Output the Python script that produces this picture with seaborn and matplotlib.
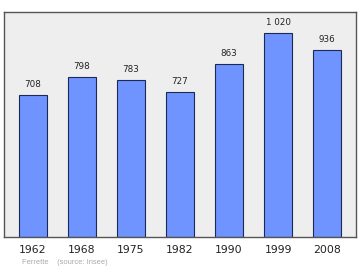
import matplotlib
matplotlib.use("Agg")
import matplotlib.pyplot as plt
import seaborn as sns
import pandas as pd

years = ["1962", "1968", "1975", "1982", "1990", "1999", "2008"]
population = [708, 798, 783, 727, 863, 1020, 936]
value_labels = ["708", "798", "783", "727", "863", "1 020", "936"]

sns.set_style("white")
plt.rcParams['font.family'] = ['DejaVu Sans']

df = pd.DataFrame({"year": years, "pop": population})

fig = plt.figure(figsize=(3.6, 2.7), dpi=100)
ax = fig.add_axes([4/360, 1 - 237/270, 352/360, 225/270])
ax.set_facecolor("#eeeeee")
sns.barplot(data=df, x="year", y="pop", ax=ax, color="#6f94ff", width=0.57,
            edgecolor="#1a2a55", linewidth=0.8, saturation=1)
ax.set_xlim(-0.59, 6.59)
ax.set_ylim(0, 1125)
ax.set_yticks([])
ax.set_xlabel("")
ax.set_ylabel("")
ax.tick_params(axis="x", length=0, labelsize=7.8, pad=6, colors="#222222")
for s in ax.spines.values():
    s.set_color("#555555")
    s.set_linewidth(1.0)
for i, (v, t) in enumerate(zip(population, value_labels)):
    ax.text(i, v + 30, t, ha="center", va="bottom", fontsize=6.3, color="#222222")
fig.text(22/360, 1 - 262/270, "Ferrette    (source: Insee)", fontsize=5.4,
         color="#aaaaaa", ha="left", va="center", family=['Liberation Sans'])
fig.savefig("out.png", dpi=100)
